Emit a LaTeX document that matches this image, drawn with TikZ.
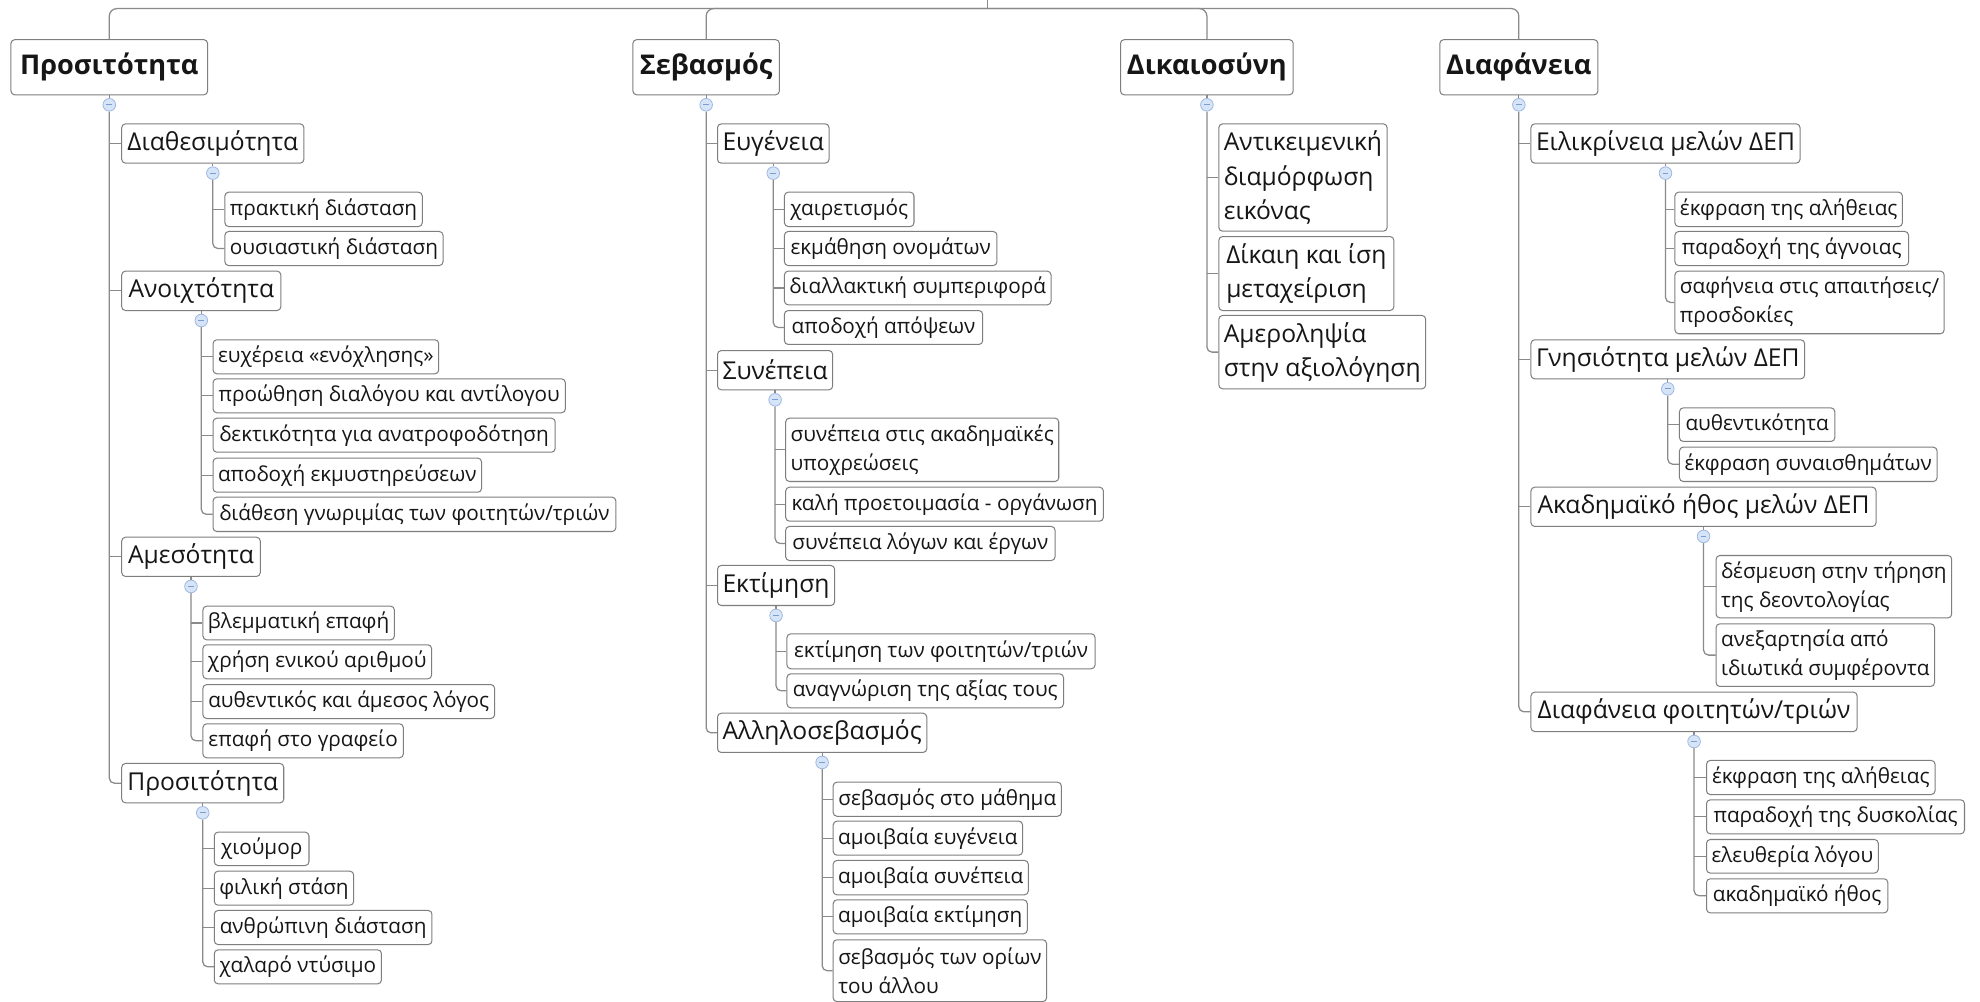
\documentclass[tikz,border=0pt]{standalone}
\usepackage{fontspec}
\setmainfont{Open Sans}
\usetikzlibrary{calc}
\pgfdeclarelayer{canvas}
\pgfdeclarelayer{bg}
\pgfsetlayers{canvas,bg,main}

\definecolor{boxc}{HTML}{7E7E7E}
\definecolor{linec}{HTML}{8A8A8A}
\definecolor{txt}{HTML}{161616}
\definecolor{knobfill}{HTML}{D6E4F8}
\definecolor{knobline}{HTML}{9CB6E0}
\definecolor{knobmark}{HTML}{7D9DCF}

\tikzset{
  box/.style={draw=boxc, line width=0.8pt, rounded corners=3pt, fill=white,
    text=txt, anchor=north west, inner xsep=4pt, inner ysep=1pt, align=left},
  rootbox/.style={box, font=\bfseries\fontsize{21.5}{25}\selectfont},
  topicA/.style={box, font=\fontsize{19.5}{27}\selectfont},
  topicB/.style={box, font=\fontsize{16.4}{23}\selectfont},
  conn/.style={draw=linec, line width=1pt},
  knob/.style={circle, draw=knobline, fill=knobfill, line width=0.6pt,
    minimum size=10pt, inner sep=0pt,
    path picture={\draw[knobmark, line width=0.7pt]
      ([xshift=-2.3pt]path picture bounding box.center) --
      ([xshift=2.3pt]path picture bounding box.center);}},
}

% \mmnode{style}{name}{north-west corner}{width}{height}{text}
\newcommand\mmnode[6]{\node[#1, minimum width=#4, minimum height=#5] (#2) at (#3) {#6};}
% collapse knob under a parent
\newcommand\mmknob[2]{\node[knob] (#1) at ($(#2.south)+(0,7.5)$) {};
  \begin{pgfonlayer}{bg}\draw[conn] (#2.south) -- (#1);\end{pgfonlayer}}
% vertical line from a knob to the last child, and stubs to the others
\newcommand\mmtrunk[2]{\begin{pgfonlayer}{bg}\draw[conn, rounded corners=4pt] (#1) |- (#2.west);\end{pgfonlayer}}
\newcommand\mmstub[2]{\begin{pgfonlayer}{bg}\draw[conn] (#1 |- #2.west) -- (#2.west);\end{pgfonlayer}}

\begin{document}
\begin{tikzpicture}[x=1pt, y=-1pt]
\begin{pgfonlayer}{canvas}
\fill[white] (0,0) rectangle (1568,793);
\end{pgfonlayer}
\useasboundingbox (0,0) rectangle (1568,793);
\clip (0,0) rectangle (1568,793);

% ---------- main topics ----------
\mmnode{rootbox}{rA}{8.3,31}{155.7}{43.7}{Προσιτότητα}
\mmnode{rootbox}{rB}{500.8,31}{116}{43.7}{Σεβασμός}
\mmnode{rootbox}{rC}{887,31}{136.7}{43.7}{Δικαιοσύνη}
\mmnode{rootbox}{rD}{1139.8,31}{125.2}{43.7}{Διαφάνεια}

\coordinate (hubtop) at (782,0);
\coordinate (hub) at (782,6.8);
\begin{pgfonlayer}{bg}
\draw[conn] (hubtop) -- (hub);
\foreach \r in {rA,rB,rC,rD} \draw[conn, rounded corners=6pt] (hub) -| (\r.north);
\end{pgfonlayer}

% ---------- Προσιτότητα ----------
\mmnode{topicA}{A1}{96,97.7}{144.3}{31.1}{Διαθεσιμότητα}
\mmnode{topicA}{A2}{96,214.3}{126}{31.2}{Ανοιχτότητα}
\mmnode{topicA}{A3}{96,425}{109.7}{31.1}{Αμεσότητα}
\mmnode{topicA}{A4}{96,604.2}{128.3}{31.2}{Προσιτότητα}
\mmknob{kA}{rA}
\mmtrunk{kA}{A4}
\foreach \n in {A1,A2,A3} {\mmstub{kA}{\n}}

\mmnode{topicB}{A11}{177.7,151.8}{156.3}{27.2}{πρακτική διάσταση}
\mmnode{topicB}{A12}{177.7,182.9}{170}{27}{ουσιαστική διάσταση}
\mmknob{kA1}{A1}
\mmtrunk{kA1}{A12}
\mmstub{kA1}{A11}

\mmnode{topicB}{A21}{168.3,268.7}{176.7}{26.9}{ευχέρεια «ενόχλησης»}
\mmnode{topicB}{A22}{168.3,299.6}{279}{26.9}{προώθηση διαλόγου και αντίλογου}
\mmnode{topicB}{A23}{168.3,330.8}{271}{26.9}{δεκτικότητα για ανατροφοδότηση}
\mmnode{topicB}{A24}{168.3,362.4}{211.7}{27}{αποδοχή εκμυστηρεύσεων}
\mmnode{topicB}{A25}{168.3,393.3}{319}{27.2}{διάθεση γνωριμίας των φοιτητών/τριών}
\mmknob{kA2}{A2}
\mmtrunk{kA2}{A25}
\foreach \n in {A21,A22,A23,A24} {\mmstub{kA2}{\n}}

\mmnode{topicB}{A31}{160.3,479.6}{148.7}{26.7}{βλεμματική επαφή}
\mmnode{topicB}{A32}{160.3,510.2}{179}{27}{χρήση ενικού αριθμού}
\mmnode{topicB}{A33}{160.3,541.7}{231}{26.9}{αυθεντικός και άμεσος λόγος}
\mmnode{topicB}{A34}{160.3,572.8}{158.7}{26.9}{επαφή στο γραφείο}
\mmknob{kA3}{A3}
\mmtrunk{kA3}{A34}
\foreach \n in {A31,A32,A33} {\mmstub{kA3}{\n}}

\mmnode{topicB}{A41}{169.3,658.6}{75}{26.4}{χιούμορ}
\mmnode{topicB}{A42}{169.3,689.5}{109}{26.9}{φιλική στάση}
\mmnode{topicB}{A43}{169.3,720.6}{172.4}{27}{ανθρώπινη διάσταση}
\mmnode{topicB}{A44}{169.3,751.8}{132.4}{26.9}{χαλαρό ντύσιμο}
\mmknob{kA4}{A4}
\mmtrunk{kA4}{A44}
\foreach \n in {A41,A42,A43} {\mmstub{kA4}{\n}}

% ---------- Σεβασμός ----------
\mmnode{topicA}{B1}{567.8,97.7}{86.6}{31.1}{Ευγένεια}
\mmnode{topicA}{B2}{567.8,277.2}{90}{31.1}{Συνέπεια}
\mmnode{topicA}{B3}{567.8,447.4}{91}{31.7}{Εκτίμηση}
\mmnode{topicA}{B4}{567.8,564.4}{164}{31.1}{Αλληλοσεβασμός}
\mmknob{kB}{rB}
\mmtrunk{kB}{B4}
\foreach \n in {B1,B2,B3} {\mmstub{kB}{\n}}

\mmnode{topicB}{B11}{620.8,151.8}{102.6}{27.2}{χαιρετισμός}
\mmnode{topicB}{B12}{620.8,182.9}{168.3}{27}{εκμάθηση ονομάτων}
\mmnode{topicB}{B13}{620.8,214.3}{209.3}{26.7}{διαλλακτική συμπεριφορά}
\mmnode{topicB}{B14}{620.8,245.5}{157}{26.9}{αποδοχή απόψεων}
\mmknob{kB1}{B1}
\mmtrunk{kB1}{B14}
\foreach \n in {B11,B12,B13} {\mmstub{kB1}{\n}}

\mmnode{topicB}{B21}{621.8,330.7}{215}{50.2}{συνέπεια στις ακαδημαϊκές\\υποχρεώσεις}
\mmnode{topicB}{B22}{621.8,385.4}{251.6}{26.9}{καλή προετοιμασία - οργάνωση}
\mmnode{topicB}{B23}{621.8,416.5}{213.3}{27}{συνέπεια λόγων και έργων}
\mmknob{kB2}{B2}
\mmtrunk{kB2}{B23}
\foreach \n in {B21,B22} {\mmstub{kB2}{\n}}

\mmnode{topicB}{B31}{622.8,501.5}{244}{27.7}{εκτίμηση των φοιτητών/τριών}
\mmnode{topicB}{B32}{622.8,533.2}{219}{26.9}{αναγνώριση της αξίας τους}
\mmknob{kB3}{B3}
\mmtrunk{kB3}{B32}
\mmstub{kB3}{B31}

\mmnode{topicB}{B41}{659.4,619}{180.7}{27}{σεβασμός στο μάθημα}
\mmnode{topicB}{B42}{659.4,649.9}{148}{26.9}{αμοιβαία ευγένεια}
\mmnode{topicB}{B43}{659.4,681}{152.4}{27.2}{αμοιβαία συνέπεια}
\mmnode{topicB}{B44}{659.4,712.2}{150}{26.9}{αμοιβαία εκτίμηση}
\mmnode{topicB}{B45}{659.4,743.8}{169}{49}{σεβασμός των ορίων\\του άλλου}
\mmknob{kB4}{B4}
\mmtrunk{kB4}{B45}
\foreach \n in {B41,B42,B43,B44} {\mmstub{kB4}{\n}}

% ---------- Δικαιοσύνη ----------
\mmnode{topicA}{C1}{964.8,97.7}{133.3}{85}{Αντικειμενική\\διαμόρφωση\\εικόνας}
\mmnode{topicA}{C2}{964.8,186.9}{138.6}{58.6}{Δίκαιη και ίση\\μεταχείριση}
\mmnode{topicA}{C3}{964.8,249.4}{161.8}{58.1}{Αμεροληψία\\στην αξιολόγηση}
\mmknob{kC}{rC}
\mmtrunk{kC}{C3}
\foreach \n in {C1,C2} {\mmstub{kC}{\n}}

% ---------- Διαφάνεια ----------
\mmnode{topicA}{D1}{1212,97.7}{208.3}{31.1}{Ειλικρίνεια μελών ΔΕΠ}
\mmnode{topicA}{D2}{1212,268.7}{216.6}{30.9}{Γνησιότητα μελών ΔΕΠ}
\mmnode{topicA}{D3}{1212,385.4}{273.3}{31.1}{Ακαδημαϊκό ήθος μελών ΔΕΠ}
\mmnode{topicA}{D4}{1212,547.7}{258.3}{31.2}{Διαφάνεια φοιτητών/τριών}
\mmknob{kD}{rD}
\mmtrunk{kD}{D4}
\foreach \n in {D1,D2,D3} {\mmstub{kD}{\n}}

\mmnode{topicB}{D11}{1326,151.8}{180}{27.2}{έκφραση της αλήθειας}
\mmnode{topicB}{D12}{1326,182.9}{185}{27}{παραδοχή της άγνοιας}
\mmnode{topicB}{D13}{1326,214.3}{211.6}{49.6}{σαφήνεια στις απαιτήσεις/\\προσδοκίες}
\mmknob{kD1}{D1}
\mmtrunk{kD1}{D13}
\foreach \n in {D11,D12} {\mmstub{kD1}{\n}}

\mmnode{topicB}{D21}{1329.6,322.6}{123}{26.6}{αυθεντικότητα}
\mmnode{topicB}{D22}{1329.6,353.7}{204}{27.2}{έκφραση συναισθημάτων}
\mmknob{kD2}{D2}
\mmtrunk{kD2}{D22}
\mmstub{kD2}{D21}

\mmnode{topicB}{D31}{1358.6,439.5}{184}{49.4}{δέσμευση στην τήρηση\\της δεοντολογίας}
\mmnode{topicB}{D32}{1358.6,493.6}{172.7}{49.6}{ανεξαρτησία από\\ιδιωτικά συμφέροντα}
\mmknob{kD3}{D3}
\mmtrunk{kD3}{D32}
\mmstub{kD3}{D31}

\mmnode{topicB}{D41}{1351,601.8}{181}{27}{έκφραση της αλήθειας}
\mmnode{topicB}{D42}{1351,633}{204.3}{26.9}{παραδοχή της δυσκολίας}
\mmnode{topicB}{D43}{1351,664.4}{134.3}{26.6}{ελευθερία λόγου}
\mmnode{topicB}{D44}{1351,695.5}{143.6}{27}{ακαδημαϊκό ήθος}
\mmknob{kD4}{D4}
\mmtrunk{kD4}{D44}
\foreach \n in {D41,D42,D43} {\mmstub{kD4}{\n}}
\end{tikzpicture}
\end{document}
